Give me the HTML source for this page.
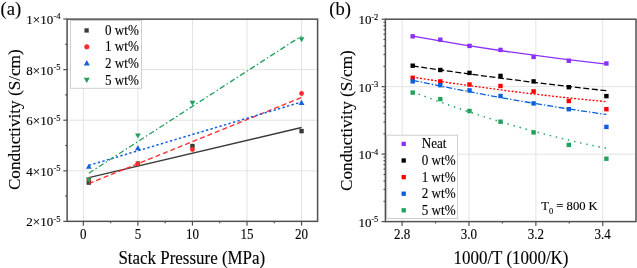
<!DOCTYPE html>
<html><head><meta charset="utf-8"><style>
html,body{margin:0;padding:0;background:#fff;width:637px;height:268px;overflow:hidden}
svg{display:block;will-change:transform}
text{font-family:'Liberation Serif',serif;fill:#000;stroke:#000;stroke-width:0.12px}
</style></head><body>
<svg width="637" height="268" viewBox="0 0 637 268">
<rect width="637" height="268" fill="#fff"/>
<line x1="83.35" y1="19.15" x2="83.35" y2="221.35" stroke="#e3e3e3" stroke-width="1"/>
<line x1="137.90" y1="19.15" x2="137.90" y2="221.35" stroke="#e3e3e3" stroke-width="1"/>
<line x1="192.45" y1="19.15" x2="192.45" y2="221.35" stroke="#e3e3e3" stroke-width="1"/>
<line x1="247.00" y1="19.15" x2="247.00" y2="221.35" stroke="#e3e3e3" stroke-width="1"/>
<line x1="301.55" y1="19.15" x2="301.55" y2="221.35" stroke="#e3e3e3" stroke-width="1"/>
<line x1="67.1" y1="170.80" x2="317.6" y2="170.80" stroke="#e3e3e3" stroke-width="1"/>
<line x1="67.1" y1="120.20" x2="317.6" y2="120.20" stroke="#e3e3e3" stroke-width="1"/>
<line x1="67.1" y1="69.60" x2="317.6" y2="69.60" stroke="#e3e3e3" stroke-width="1"/>
<line x1="402.10" y1="19.2" x2="402.10" y2="221.6" stroke="#e3e3e3" stroke-width="1"/>
<line x1="468.98" y1="19.2" x2="468.98" y2="221.6" stroke="#e3e3e3" stroke-width="1"/>
<line x1="535.86" y1="19.2" x2="535.86" y2="221.6" stroke="#e3e3e3" stroke-width="1"/>
<line x1="602.74" y1="19.2" x2="602.74" y2="221.6" stroke="#e3e3e3" stroke-width="1"/>
<line x1="385.4" y1="86.67" x2="636.0" y2="86.67" stroke="#e3e3e3" stroke-width="1"/>
<line x1="385.4" y1="154.14" x2="636.0" y2="154.14" stroke="#e3e3e3" stroke-width="1"/>
<line x1="88.80499999999999" y1="177.7" x2="301.54999999999995" y2="127.5" stroke="#3a3a3a" stroke-width="1.3"/>
<rect x="86.60" y="180.40" width="4.4" height="4.4" fill="#3a3a3a"/>
<rect x="135.70" y="161.40" width="4.4" height="4.4" fill="#3a3a3a"/>
<rect x="190.25" y="143.90" width="4.4" height="4.4" fill="#3a3a3a"/>
<rect x="299.35" y="128.90" width="4.4" height="4.4" fill="#3a3a3a"/>
<line x1="88.80499999999999" y1="183.6" x2="301.54999999999995" y2="97.5" stroke="#ff2b2b" stroke-width="1.3" stroke-dasharray="5 3"/>
<circle cx="88.80" cy="179.40" r="2.4" fill="#ff2b2b"/>
<circle cx="137.90" cy="163.80" r="2.4" fill="#ff2b2b"/>
<circle cx="192.45" cy="149.50" r="2.4" fill="#ff2b2b"/>
<circle cx="301.55" cy="93.50" r="2.4" fill="#ff2b2b"/>
<line x1="88.80499999999999" y1="165.4" x2="301.54999999999995" y2="102.0" stroke="#1560dd" stroke-width="1.5" stroke-dasharray="2.4 2.3"/>
<polygon points="85.90,168.75 91.70,168.75 88.80,163.65" fill="#1560dd"/>
<polygon points="135.00,150.35 140.80,150.35 137.90,145.25" fill="#1560dd"/>
<polygon points="298.65,104.95 304.45,104.95 301.55,99.85" fill="#1560dd"/>
<line x1="88.80499999999999" y1="173.2" x2="301.54999999999995" y2="36.0" stroke="#20a05a" stroke-width="1.3" stroke-dasharray="5.5 2.5 1.5 2.5"/>
<polygon points="85.90,177.55 91.70,177.55 88.80,182.65" fill="#20a05a"/>
<polygon points="135.00,133.45 140.80,133.45 137.90,138.55" fill="#20a05a"/>
<polygon points="189.55,100.65 195.35,100.65 192.45,105.75" fill="#20a05a"/>
<polygon points="298.65,37.25 304.45,37.25 301.55,42.35" fill="#20a05a"/>
<path d="M412.7,36.04 Q509.55,53.76 606.4,64.08" fill="none" stroke="#8a2ef8" stroke-width="1.3"/>
<rect x="410.50" y="34.10" width="4.4" height="4.4" fill="#8a2ef8"/>
<rect x="438.10" y="37.50" width="4.4" height="4.4" fill="#8a2ef8"/>
<rect x="467.30" y="43.70" width="4.4" height="4.4" fill="#8a2ef8"/>
<rect x="498.30" y="47.70" width="4.4" height="4.4" fill="#8a2ef8"/>
<rect x="531.40" y="54.70" width="4.4" height="4.4" fill="#8a2ef8"/>
<rect x="566.60" y="58.50" width="4.4" height="4.4" fill="#8a2ef8"/>
<rect x="604.20" y="61.30" width="4.4" height="4.4" fill="#8a2ef8"/>
<path d="M412.7,65.93 Q509.55,80.24 606.4,90.70" fill="none" stroke="#000000" stroke-width="1.3" stroke-dasharray="6 2.6"/>
<rect x="410.50" y="63.50" width="4.4" height="4.4" fill="#000000"/>
<rect x="438.10" y="67.80" width="4.4" height="4.4" fill="#000000"/>
<rect x="467.30" y="70.70" width="4.4" height="4.4" fill="#000000"/>
<rect x="498.30" y="73.70" width="4.4" height="4.4" fill="#000000"/>
<rect x="531.40" y="79.20" width="4.4" height="4.4" fill="#000000"/>
<rect x="566.60" y="85.00" width="4.4" height="4.4" fill="#000000"/>
<rect x="604.20" y="93.90" width="4.4" height="4.4" fill="#000000"/>
<path d="M412.7,77.09 Q509.55,92.66 606.4,101.65" fill="none" stroke="#ff0000" stroke-width="1.35" stroke-dasharray="2 1.7"/>
<rect x="410.50" y="75.60" width="4.4" height="4.4" fill="#ff0000"/>
<rect x="438.10" y="79.20" width="4.4" height="4.4" fill="#ff0000"/>
<rect x="467.30" y="82.30" width="4.4" height="4.4" fill="#ff0000"/>
<rect x="498.30" y="83.80" width="4.4" height="4.4" fill="#ff0000"/>
<rect x="531.40" y="89.20" width="4.4" height="4.4" fill="#ff0000"/>
<rect x="566.60" y="98.80" width="4.4" height="4.4" fill="#ff0000"/>
<rect x="604.20" y="107.00" width="4.4" height="4.4" fill="#ff0000"/>
<path d="M412.7,80.27 Q509.55,100.89 606.4,114.46" fill="none" stroke="#0a5fdc" stroke-width="1.3" stroke-dasharray="6 2 1.4 2"/>
<rect x="410.50" y="79.20" width="4.4" height="4.4" fill="#0a5fdc"/>
<rect x="438.10" y="83.00" width="4.4" height="4.4" fill="#0a5fdc"/>
<rect x="467.30" y="88.20" width="4.4" height="4.4" fill="#0a5fdc"/>
<rect x="498.30" y="93.80" width="4.4" height="4.4" fill="#0a5fdc"/>
<rect x="531.40" y="101.20" width="4.4" height="4.4" fill="#0a5fdc"/>
<rect x="566.60" y="107.00" width="4.4" height="4.4" fill="#0a5fdc"/>
<rect x="604.20" y="124.70" width="4.4" height="4.4" fill="#0a5fdc"/>
<path d="M412.7,91.86 Q509.55,128.76 606.4,148.39" fill="none" stroke="#1fa35a" stroke-width="1.4" stroke-dasharray="1.5 4.75"/>
<rect x="410.50" y="90.40" width="4.4" height="4.4" fill="#1fa35a"/>
<rect x="438.10" y="96.90" width="4.4" height="4.4" fill="#1fa35a"/>
<rect x="467.30" y="108.80" width="4.4" height="4.4" fill="#1fa35a"/>
<rect x="498.30" y="119.50" width="4.4" height="4.4" fill="#1fa35a"/>
<rect x="531.40" y="130.20" width="4.4" height="4.4" fill="#1fa35a"/>
<rect x="566.60" y="142.70" width="4.4" height="4.4" fill="#1fa35a"/>
<rect x="604.20" y="156.50" width="4.4" height="4.4" fill="#1fa35a"/>
<rect x="70.5" y="20.5" width="71" height="67.8" fill="#fff" stroke="#cfcfcf" stroke-width="1"/>
<rect x="84.45" y="28.30" width="4.3" height="4.3" fill="#3a3a3a"/>
<circle cx="86.80" cy="46.80" r="2.55" fill="#ff2b2b"/>
<polygon points="83.80,65.40 89.80,65.40 86.80,60.00" fill="#1560dd"/>
<polygon points="83.80,77.70 89.80,77.70 86.80,82.90" fill="#20a05a"/>
<text transform="translate(105.00,34.80) scale(1.0,1.05)" font-size="13.1">0 wt%</text>
<text transform="translate(105.00,51.20) scale(1.0,1.05)" font-size="13.1">1 wt%</text>
<text transform="translate(105.00,67.90) scale(1.0,1.05)" font-size="13.1">2 wt%</text>
<text transform="translate(105.00,84.50) scale(1.0,1.05)" font-size="13.1">5 wt%</text>
<rect x="386.7" y="135.2" width="70.9" height="83.3" fill="#fff" stroke="#cfcfcf" stroke-width="1"/>
<rect x="401.55" y="141.75" width="4.3" height="4.3" fill="#8a2ef8"/>
<text transform="translate(421.80,148.30) scale(1.0,1.05)" font-size="13.1">Neat</text>
<rect x="401.55" y="158.35" width="4.3" height="4.3" fill="#000000"/>
<text transform="translate(421.80,164.90) scale(1.0,1.05)" font-size="13.1">0 wt%</text>
<rect x="401.55" y="174.95" width="4.3" height="4.3" fill="#ff0000"/>
<text transform="translate(421.80,181.50) scale(1.0,1.05)" font-size="13.1">1 wt%</text>
<rect x="401.55" y="191.55" width="4.3" height="4.3" fill="#0a5fdc"/>
<text transform="translate(421.80,198.10) scale(1.0,1.05)" font-size="13.1">2 wt%</text>
<rect x="401.55" y="208.15" width="4.3" height="4.3" fill="#1fa35a"/>
<text transform="translate(421.80,214.70) scale(1.0,1.05)" font-size="13.1">5 wt%</text>
<rect x="67.1" y="19.15" width="250.50" height="202.20" fill="none" stroke="#505050" stroke-width="1.5"/>
<rect x="385.4" y="19.2" width="250.60" height="202.40" fill="none" stroke="#505050" stroke-width="1.5"/>
<line x1="83.35" y1="221.35" x2="83.35" y2="225.65" stroke="#505050" stroke-width="1.2"/>
<line x1="137.90" y1="221.35" x2="137.90" y2="225.65" stroke="#505050" stroke-width="1.2"/>
<line x1="192.45" y1="221.35" x2="192.45" y2="225.65" stroke="#505050" stroke-width="1.2"/>
<line x1="247.00" y1="221.35" x2="247.00" y2="225.65" stroke="#505050" stroke-width="1.2"/>
<line x1="301.55" y1="221.35" x2="301.55" y2="225.65" stroke="#505050" stroke-width="1.2"/>
<line x1="110.62" y1="221.35" x2="110.62" y2="223.25" stroke="#505050" stroke-width="1.2"/>
<line x1="165.18" y1="221.35" x2="165.18" y2="223.25" stroke="#505050" stroke-width="1.2"/>
<line x1="219.72" y1="221.35" x2="219.72" y2="223.25" stroke="#505050" stroke-width="1.2"/>
<line x1="274.27" y1="221.35" x2="274.27" y2="223.25" stroke="#505050" stroke-width="1.2"/>
<line x1="67.10" y1="221.40" x2="63.30" y2="221.40" stroke="#505050" stroke-width="1.2"/>
<line x1="67.10" y1="170.80" x2="63.30" y2="170.80" stroke="#505050" stroke-width="1.2"/>
<line x1="67.10" y1="120.20" x2="63.30" y2="120.20" stroke="#505050" stroke-width="1.2"/>
<line x1="67.10" y1="69.60" x2="63.30" y2="69.60" stroke="#505050" stroke-width="1.2"/>
<line x1="67.10" y1="19.00" x2="63.30" y2="19.00" stroke="#505050" stroke-width="1.2"/>
<line x1="67.10" y1="196.10" x2="65.20" y2="196.10" stroke="#505050" stroke-width="1.2"/>
<line x1="67.10" y1="145.50" x2="65.20" y2="145.50" stroke="#505050" stroke-width="1.2"/>
<line x1="67.10" y1="94.90" x2="65.20" y2="94.90" stroke="#505050" stroke-width="1.2"/>
<line x1="67.10" y1="44.30" x2="65.20" y2="44.30" stroke="#505050" stroke-width="1.2"/>
<line x1="402.10" y1="221.60" x2="402.10" y2="225.90" stroke="#505050" stroke-width="1.2"/>
<line x1="468.98" y1="221.60" x2="468.98" y2="225.90" stroke="#505050" stroke-width="1.2"/>
<line x1="535.86" y1="221.60" x2="535.86" y2="225.90" stroke="#505050" stroke-width="1.2"/>
<line x1="602.74" y1="221.60" x2="602.74" y2="225.90" stroke="#505050" stroke-width="1.2"/>
<line x1="435.54" y1="221.60" x2="435.54" y2="223.50" stroke="#505050" stroke-width="1.2"/>
<line x1="502.42" y1="221.60" x2="502.42" y2="223.50" stroke="#505050" stroke-width="1.2"/>
<line x1="569.30" y1="221.60" x2="569.30" y2="223.50" stroke="#505050" stroke-width="1.2"/>
<line x1="385.40" y1="19.20" x2="381.60" y2="19.20" stroke="#505050" stroke-width="1.2"/>
<line x1="385.40" y1="86.67" x2="381.60" y2="86.67" stroke="#505050" stroke-width="1.2"/>
<line x1="385.40" y1="154.14" x2="381.60" y2="154.14" stroke="#505050" stroke-width="1.2"/>
<line x1="385.40" y1="221.61" x2="381.60" y2="221.61" stroke="#505050" stroke-width="1.2"/>
<line x1="385.40" y1="66.36" x2="383.50" y2="66.36" stroke="#505050" stroke-width="1.2"/>
<line x1="385.40" y1="54.48" x2="383.50" y2="54.48" stroke="#505050" stroke-width="1.2"/>
<line x1="385.40" y1="46.05" x2="383.50" y2="46.05" stroke="#505050" stroke-width="1.2"/>
<line x1="385.40" y1="39.51" x2="383.50" y2="39.51" stroke="#505050" stroke-width="1.2"/>
<line x1="385.40" y1="34.17" x2="383.50" y2="34.17" stroke="#505050" stroke-width="1.2"/>
<line x1="385.40" y1="29.65" x2="383.50" y2="29.65" stroke="#505050" stroke-width="1.2"/>
<line x1="385.40" y1="25.74" x2="383.50" y2="25.74" stroke="#505050" stroke-width="1.2"/>
<line x1="385.40" y1="22.29" x2="383.50" y2="22.29" stroke="#505050" stroke-width="1.2"/>
<line x1="385.40" y1="133.83" x2="383.50" y2="133.83" stroke="#505050" stroke-width="1.2"/>
<line x1="385.40" y1="121.95" x2="383.50" y2="121.95" stroke="#505050" stroke-width="1.2"/>
<line x1="385.40" y1="113.52" x2="383.50" y2="113.52" stroke="#505050" stroke-width="1.2"/>
<line x1="385.40" y1="106.98" x2="383.50" y2="106.98" stroke="#505050" stroke-width="1.2"/>
<line x1="385.40" y1="101.64" x2="383.50" y2="101.64" stroke="#505050" stroke-width="1.2"/>
<line x1="385.40" y1="97.12" x2="383.50" y2="97.12" stroke="#505050" stroke-width="1.2"/>
<line x1="385.40" y1="93.21" x2="383.50" y2="93.21" stroke="#505050" stroke-width="1.2"/>
<line x1="385.40" y1="89.76" x2="383.50" y2="89.76" stroke="#505050" stroke-width="1.2"/>
<line x1="385.40" y1="201.30" x2="383.50" y2="201.30" stroke="#505050" stroke-width="1.2"/>
<line x1="385.40" y1="189.42" x2="383.50" y2="189.42" stroke="#505050" stroke-width="1.2"/>
<line x1="385.40" y1="180.99" x2="383.50" y2="180.99" stroke="#505050" stroke-width="1.2"/>
<line x1="385.40" y1="174.45" x2="383.50" y2="174.45" stroke="#505050" stroke-width="1.2"/>
<line x1="385.40" y1="169.11" x2="383.50" y2="169.11" stroke="#505050" stroke-width="1.2"/>
<line x1="385.40" y1="164.59" x2="383.50" y2="164.59" stroke="#505050" stroke-width="1.2"/>
<line x1="385.40" y1="160.68" x2="383.50" y2="160.68" stroke="#505050" stroke-width="1.2"/>
<line x1="385.40" y1="157.23" x2="383.50" y2="157.23" stroke="#505050" stroke-width="1.2"/>
<text transform="translate(83.35,238.60) scale(1.0,1.08)" font-size="13.0" text-anchor="middle">0</text>
<text transform="translate(137.90,238.60) scale(1.0,1.08)" font-size="13.0" text-anchor="middle">5</text>
<text transform="translate(192.45,238.60) scale(1.0,1.08)" font-size="13.0" text-anchor="middle">10</text>
<text transform="translate(247.00,238.60) scale(1.0,1.08)" font-size="13.0" text-anchor="middle">15</text>
<text transform="translate(301.55,238.60) scale(1.0,1.08)" font-size="13.0" text-anchor="middle">20</text>
<text transform="translate(402.10,238.60) scale(1.0,1.08)" font-size="13.0" text-anchor="middle">2.8</text>
<text transform="translate(468.98,238.60) scale(1.0,1.08)" font-size="13.0" text-anchor="middle">3.0</text>
<text transform="translate(535.86,238.60) scale(1.0,1.08)" font-size="13.0" text-anchor="middle">3.2</text>
<text transform="translate(602.74,238.60) scale(1.0,1.08)" font-size="13.0" text-anchor="middle">3.4</text>
<text transform="translate(60.60,24.00) scale(1.0,1.0)" font-size="13.0" text-anchor="end">1×10<tspan font-size="8.5" dx="0.3" dy="-4.6">-4</tspan></text>
<text transform="translate(60.60,74.60) scale(1.0,1.0)" font-size="13.0" text-anchor="end">8×10<tspan font-size="8.5" dx="0.3" dy="-4.6">-5</tspan></text>
<text transform="translate(60.60,125.20) scale(1.0,1.0)" font-size="13.0" text-anchor="end">6×10<tspan font-size="8.5" dx="0.3" dy="-4.6">-5</tspan></text>
<text transform="translate(60.60,175.80) scale(1.0,1.0)" font-size="13.0" text-anchor="end">4×10<tspan font-size="8.5" dx="0.3" dy="-4.6">-5</tspan></text>
<text transform="translate(60.60,226.40) scale(1.0,1.0)" font-size="13.0" text-anchor="end">2×10<tspan font-size="8.5" dx="0.3" dy="-4.6">-5</tspan></text>
<text transform="translate(378.30,24.20) scale(1.0,1.0)" font-size="13.0" text-anchor="end">10<tspan font-size="8.5" dx="-0.4" dy="-4.6">-2</tspan></text>
<text transform="translate(378.30,91.67) scale(1.0,1.0)" font-size="13.0" text-anchor="end">10<tspan font-size="8.5" dx="-0.4" dy="-4.6">-3</tspan></text>
<text transform="translate(378.30,159.14) scale(1.0,1.0)" font-size="13.0" text-anchor="end">10<tspan font-size="8.5" dx="-0.4" dy="-4.6">-4</tspan></text>
<text transform="translate(378.30,226.61) scale(1.0,1.0)" font-size="13.0" text-anchor="end">10<tspan font-size="8.5" dx="-0.4" dy="-4.6">-5</tspan></text>
<text transform="translate(191.80,263.60) scale(1.0,1.06)" font-size="16.95" text-anchor="middle">Stack Pressure (MPa)</text>
<text transform="translate(511.00,263.60) scale(1.0,1.06)" font-size="16.95" text-anchor="middle">1000/T (1000/K)</text>
<text transform="translate(19.6,119.7) rotate(-90)" font-size="17.2" text-anchor="middle">Conductivity (S/cm)</text>
<text transform="translate(352.0,120.6) rotate(-90)" font-size="17.2" text-anchor="middle">Conductivity (S/cm)</text>
<text transform="translate(0.60,15.10) scale(1.0,1.0)" font-size="18.6">(a)</text>
<text transform="translate(329.20,15.10) scale(1.0,1.0)" font-size="18.6">(b)</text>
<text transform="translate(541.30,210.20) scale(1.0,1.05)" font-size="12.6">T<tspan font-size="8.4" dy="3.2">0</tspan><tspan dy="-3.2"> = 800 K</tspan></text>
</svg>
</body></html>
